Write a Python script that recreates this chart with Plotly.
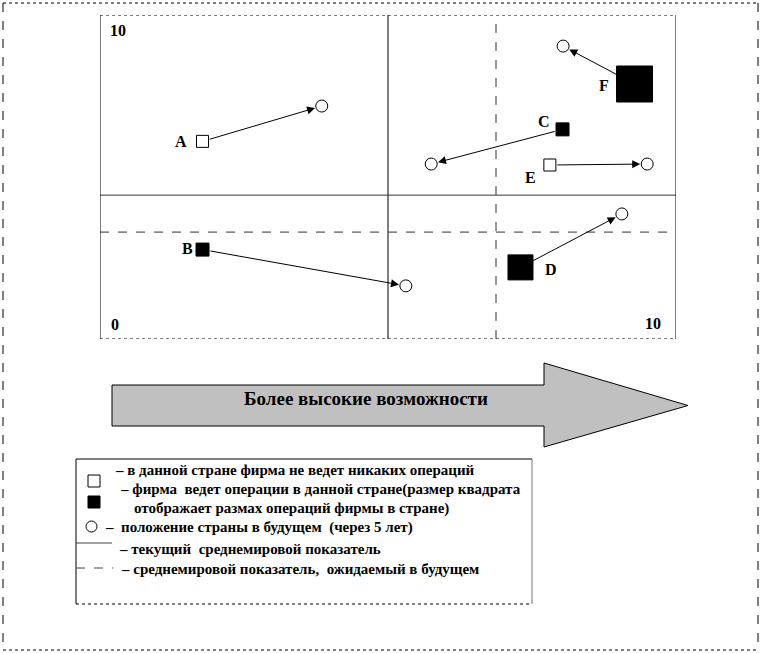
import plotly.graph_objects as go

# ---------------- data ----------------
names = ["A", "B", "C", "D", "E", "F"]
now_x = [1.78, 1.78, 8.03, 7.30, 7.81, 9.28]
now_y = [6.10, 2.76, 6.47, 2.21, 5.37, 7.87]
future_x = [3.85, 5.31, 5.75, 9.06, 9.50, 8.04]
future_y = [7.19, 1.64, 5.40, 3.86, 5.40, 9.04]
operations = [0, 1, 1, 2, 0, 3]          # 0 = no operations, otherwise scale of operations
current_avg_x, current_avg_y = 5.0, 4.44
future_avg_x, future_avg_y = 6.875, 3.30
axis_min, axis_max = 0, 10

arrow_text = "Более высокие возможности"
legend_lines = [
    "– в данной стране фирма не ведет никаких операций",
    "– фирма  ведет операции в данной стране(размер квадрата",
    "отображает размах операций фирмы в стране)",
    "–  положение страны в будущем  (через 5 лет)",
    "– текущий  среднемировой показатель",
    "– среднемировой показатель,  ожидаемый в будущем",
]

# ---------------- styling ----------------
W, H = 761, 653
FONT = "Liberation Serif, Times New Roman, serif"
size_for_scale = {0: 12, 1: 13, 2: 25, 3: 36}
label_shift = {"A": (-22, 0), "B": (-15, 1), "C": (-19, 8), "D": (31, -2), "E": (-19, -12), "F": (-31, -1)}

px_left, px_right, px_top, px_bottom = 100, 676, 15, 339
fig = go.Figure()

fig.update_layout(
    width=W, height=H, margin=dict(l=0, r=0, t=0, b=0),
    paper_bgcolor="white", plot_bgcolor="rgba(0,0,0,0)", showlegend=False,
    xaxis=dict(domain=[px_left / W, px_right / W], range=[axis_min, axis_max],
               visible=False, fixedrange=True),
    yaxis=dict(domain=[1 - px_bottom / H, 1 - px_top / H], range=[axis_min, axis_max],
               visible=False, fixedrange=True),
    xaxis2=dict(domain=[0, 1], range=[0, W], visible=False, anchor="y2", fixedrange=True),
    yaxis2=dict(domain=[0, 1], range=[H, 0], visible=False, anchor="x2", fixedrange=True),
)
fig.add_trace(go.Scatter(x=[], y=[], xaxis="x2", yaxis="y2", hoverinfo="skip"))

shapes = []
shapes.append(dict(type="line", xref="x", yref="y", x0=current_avg_x, x1=current_avg_x,
                   y0=axis_min, y1=axis_max, line=dict(color="black", width=1)))
shapes.append(dict(type="line", xref="x", yref="y", x0=axis_min, x1=axis_max,
                   y0=current_avg_y, y1=current_avg_y, line=dict(color="#333", width=1)))
shapes.append(dict(type="line", xref="x", yref="y", x0=future_avg_x, x1=future_avg_x,
                   y0=axis_min, y1=axis_max, line=dict(color="#333", width=1, dash="dash")))
shapes.append(dict(type="line", xref="x", yref="y", x0=axis_min, x1=axis_max,
                   y0=future_avg_y, y1=future_avg_y, line=dict(color="#333", width=1, dash="dash")))
shapes.append(dict(type="line", xref="x", yref="y", x0=axis_min, x1=axis_min, y0=axis_min, y1=axis_max,
                   line=dict(color="black", width=1)))
shapes.append(dict(type="line", xref="x", yref="y", x0=axis_max, x1=axis_max, y0=axis_min, y1=axis_max,
                   line=dict(color="black", width=1)))
shapes.append(dict(type="line", xref="x", yref="y", x0=axis_min, x1=axis_max, y0=axis_max, y1=axis_max,
                   line=dict(color="black", width=1, dash="dot")))
shapes.append(dict(type="line", xref="x", yref="y", x0=axis_min, x1=axis_max, y0=axis_min, y1=axis_min,
                   line=dict(color="black", width=1, dash="dot")))

shapes += [
    dict(type="line", xref="x2", yref="y2", x0=3, x1=758, y0=3, y1=3, line=dict(color="black", width=1, dash="dot")),
    dict(type="line", xref="x2", yref="y2", x0=3, x1=758, y0=650, y1=650, line=dict(color="black", width=1, dash="dot")),
    dict(type="line", xref="x2", yref="y2", x0=3, x1=3, y0=3, y1=650, line=dict(color="black", width=1, dash="dash")),
    dict(type="line", xref="x2", yref="y2", x0=758, x1=758, y0=3, y1=650, line=dict(color="black", width=1, dash="dash")),
]

shapes.append(dict(type="path", xref="x2", yref="y2",
                   path="M112,385 L544,385 L544,363 L688,405.5 L544,447 L544,426 L112,426 Z",
                   fillcolor="#c0c0c0", line=dict(color="black", width=1)))

shapes += [
    dict(type="line", xref="x2", yref="y2", x0=76, x1=532, y0=459, y1=459, line=dict(color="black", width=1)),
    dict(type="line", xref="x2", yref="y2", x0=76, x1=76, y0=459, y1=604, line=dict(color="black", width=1)),
    dict(type="line", xref="x2", yref="y2", x0=532, x1=532, y0=459, y1=604, line=dict(color="#777", width=1)),
    dict(type="line", xref="x2", yref="y2", x0=76, x1=532, y0=604, y1=604, line=dict(color="black", width=1, dash="dot")),
]
shapes.append(dict(type="rect", xref="x2", yref="y2", x0=88, x1=100, y0=475, y1=487,
                   line=dict(color="black", width=1), fillcolor="white"))
shapes.append(dict(type="rect", xref="x2", yref="y2", x0=88, x1=100, y0=496, y1=508,
                   line=dict(color="black", width=1), fillcolor="black"))
shapes.append(dict(type="circle", xref="x2", yref="y2", x0=86, x1=97, y0=521, y1=532,
                   line=dict(color="black", width=1), fillcolor="white"))
shapes.append(dict(type="line", xref="x2", yref="y2", x0=76, x1=112, y0=543, y1=543,
                   line=dict(color="#444", width=1)))
shapes.append(dict(type="line", xref="x2", yref="y2", x0=76, x1=113, y0=568, y1=568,
                   line=dict(color="#444", width=1, dash="dash")))
fig.update_layout(shapes=shapes)

annotations = []
for n, x0, y0, x1, y1, op in zip(names, now_x, now_y, future_x, future_y, operations):
    annotations.append(dict(
        x=x1, y=y1, ax=x0, ay=y0, xref="x", yref="y", axref="x", ayref="y",
        text="", showarrow=True, arrowhead=2, arrowsize=1.6, arrowwidth=1, arrowcolor="black",
        standoff=7, startstandoff=size_for_scale[op] / 2))

fig.add_trace(go.Scatter(
    x=future_x, y=future_y, mode="markers", hoverinfo="skip",
    marker=dict(symbol="circle", size=12, color="white", opacity=1, line=dict(color="black", width=1))))

fig.add_trace(go.Scatter(
    x=now_x, y=now_y, mode="markers", hoverinfo="skip",
    marker=dict(symbol="square", opacity=1,
                size=[size_for_scale[o] for o in operations],
                color=["white" if o == 0 else "black" for o in operations],
                line=dict(color="black", width=1))))

for n, x0, y0 in zip(names, now_x, now_y):
    dx, dy = label_shift[n]
    annotations.append(dict(x=x0, y=y0, xref="x", yref="y", text=f"<b>{n}</b>", showarrow=False,
                            xshift=dx, yshift=dy, font=dict(family=FONT, size=16, color="black")))

annotations += [
    dict(x=axis_min, y=axis_max, xref="x", yref="y", text="<b>10</b>", showarrow=False,
         xanchor="left", yanchor="top", xshift=8, yshift=-5, font=dict(family=FONT, size=16, color="black")),
    dict(x=axis_min, y=axis_min, xref="x", yref="y", text="<b>0</b>", showarrow=False,
         xanchor="left", yanchor="bottom", xshift=9, yshift=4, font=dict(family=FONT, size=16, color="black")),
    dict(x=axis_max, y=axis_min, xref="x", yref="y", text="<b>10</b>", showarrow=False,
         xanchor="right", yanchor="bottom", xshift=-13, yshift=5, font=dict(family=FONT, size=16, color="black")),
]

annotations.append(dict(x=366, y=398, xref="x2", yref="y2", text=f"<b>{arrow_text}</b>", showarrow=False,
                        font=dict(family=FONT, size=19, color="black")))

legend_pos = [(113, 470), (118, 489), (132, 508), (103, 527), (117, 549), (119, 569)]
for t, (lx, ly) in zip(legend_lines, legend_pos):
    annotations.append(dict(x=lx, y=ly, xref="x2", yref="y2", text=f"<b>{t}</b>", showarrow=False,
                            xanchor="left", yanchor="middle", font=dict(family=FONT, size=15, color="black")))

fig.update_layout(annotations=annotations)
fig.write_html("out.html", config={"displayModeBar": False},
               post_script="document.body.style.margin='0px';")
